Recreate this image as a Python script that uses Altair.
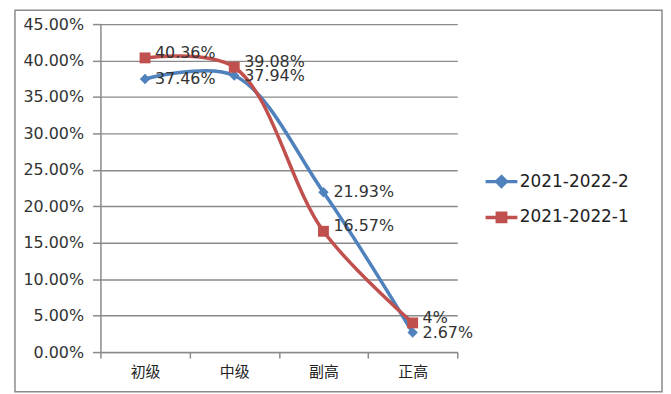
import altair as alt
import pandas as pd

categories = ["初级", "中级", "副高", "正高"]
series_names = ["2021-2022-2", "2021-2022-1"]
values_2 = [37.46, 37.94, 21.93, 2.67]
values_1 = [40.36, 39.08, 16.57, 4.00]
y_ticks = [0, 0.05, 0.10, 0.15, 0.20, 0.25, 0.30, 0.35, 0.40, 0.45]

colors = ["#4F81BD", "#C0504D"]
marker_shapes = ["diamond", "square"]
legend_shapes = [
    "M-8,0H8M0,-2.4L2.4,0L0,2.4L-2.4,0Z",
    "M-8,0H8M-2.1,-2.1H2.1V2.1H-2.1Z",
]

rows = []
for name, vals in zip(series_names, [values_2, values_1]):
    for c, v in zip(categories, vals):
        rows.append({"cat": c, "series": name, "value": v / 100.0, "label": f"{v:g}%"})
df = pd.DataFrame(rows)

FONT = "DejaVu Sans"
GRAY = "#8a8a8a"

x_enc = alt.X(
    "cat:N",
    sort=categories,
    bandPosition=0.5,
    scale=alt.Scale(type="band", paddingInner=0, paddingOuter=0),
    axis=alt.Axis(
        title=None,
        tickBand="extent",
        labelAngle=0,
        labelFont="Noto Sans CJK SC",
        labelFontSize=15,
        labelColor="#222222",
        labelPadding=7,
        tickSize=6,
        tickColor=GRAY,
        tickWidth=1.5,
        domainColor=GRAY,
        domainWidth=1.5,
        grid=False,
    ),
)
y_enc = alt.Y(
    "value:Q",
    scale=alt.Scale(domain=[0, 0.45], nice=False, zero=True),
    axis=alt.Axis(
        title=None,
        values=y_ticks,
        format=".2%",
        labelFont=FONT,
        labelFontSize=16,
        labelColor="#333333",
        labelPadding=9,
        tickSize=8,
        tickColor=GRAY,
        tickWidth=1.5,
        domainColor=GRAY,
        domainWidth=1.5,
        grid=True,
        gridColor=GRAY,
        gridWidth=1.4,
    ),
)
color_scale = alt.Scale(domain=series_names, range=colors)


def leg():
    return alt.Legend(
        title=None, orient="none", legendX=395, legendY=150,
        labelFont=FONT, labelFontSize=17, labelColor="#222222",
        symbolSize=16, symbolStrokeWidth=3.5, symbolOpacity=1,
        symbolType="circle",
        labelOffset=10, rowPadding=12, padding=0,
    )


def color_enc():
    return alt.Color("series:N", scale=color_scale, legend=leg())


base = alt.Chart(df)

line = base.mark_line(strokeWidth=3.5, interpolate="catmull-rom").encode(
    x=x_enc, y=y_enc, color=color_enc(), detail="series:N",
)

points_2 = base.transform_filter(alt.datum.series == series_names[0]).mark_point(
    filled=True, opacity=1, size=110, shape=marker_shapes[0]
).encode(x=x_enc, y=y_enc, color=color_enc())

points_1 = base.transform_filter(alt.datum.series == series_names[1]).mark_point(
    filled=True, opacity=1, size=120, shape=marker_shapes[1]
).encode(x=x_enc, y=y_enc, color=color_enc())

labels_2 = base.transform_filter(alt.datum.series == series_names[0]).mark_text(
    align="left", baseline="middle", dx=10, dy=0, font=FONT, fontSize=16, color="#333333"
).encode(x=x_enc, y=y_enc, text="label:N")

labels_1 = base.transform_filter(alt.datum.series == series_names[1]).mark_text(
    align="left", baseline="middle", dx=10, dy=-5, font=FONT, fontSize=16, color="#333333"
).encode(x=x_enc, y=y_enc, text="label:N")

legend_carrier = base.mark_point(filled=True, opacity=0, size=16).encode(
    x=x_enc, y=y_enc,
    color=color_enc(),
    stroke=alt.Stroke("series:N", scale=alt.Scale(domain=series_names, range=colors), legend=leg()),
    shape=alt.Shape("series:N", scale=alt.Scale(domain=series_names, range=legend_shapes), legend=leg()),
)

frame = alt.Chart(pd.DataFrame({"k": [0]})).mark_rect(
    fill="transparent", stroke=GRAY, strokeWidth=1.5
).encode(
    x=alt.value(-86), x2=alt.value(565), y=alt.value(-14), y2=alt.value(370)
)

chart = alt.layer(frame, line, points_2, points_1, labels_2, labels_1, legend_carrier).properties(
    width=359, height=330,
    padding={"left": 6, "top": 0, "right": 0, "bottom": 0},
).configure_view(stroke=None)

chart.save("out.html", embed_options={"renderer": "svg", "actions": False})
